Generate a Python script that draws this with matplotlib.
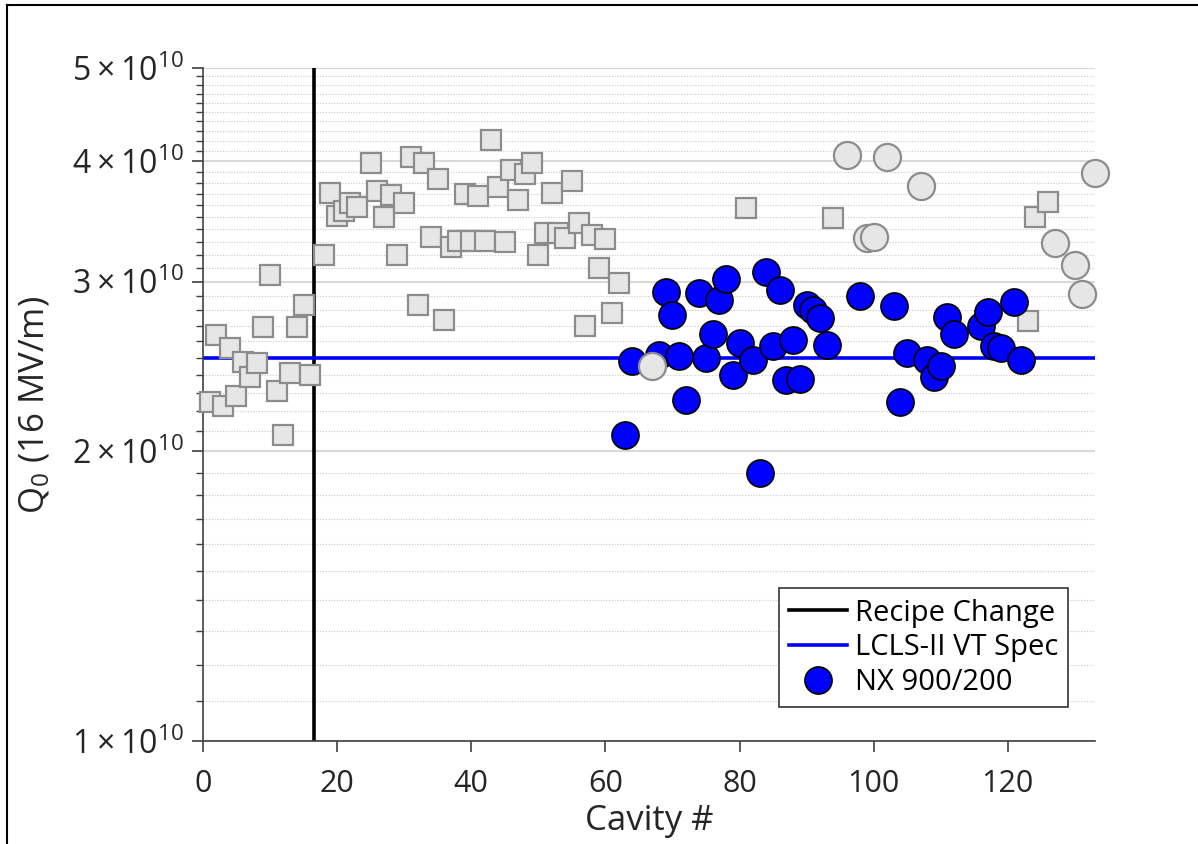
import numpy as np
import matplotlib.pyplot as plt
from matplotlib.ticker import FixedLocator, FixedFormatter, NullFormatter
from matplotlib.lines import Line2D

plt.rcParams['font.family'] = ['Open Sans', 'DejaVu Sans']
plt.rcParams['mathtext.fontset'] = 'custom'
plt.rcParams['mathtext.rm'] = 'Open Sans'
plt.rcParams['mathtext.it'] = 'Open Sans'

# gray squares (earlier cavities)
sq_x = [1, 2, 3, 4, 5, 6, 7, 8, 9, 10, 11, 12, 13, 14, 15, 16,
        18, 19, 20, 21, 22, 23, 25, 26, 27, 28, 29, 30, 31, 32, 33, 34, 35,
        36, 37, 38, 39, 40, 41, 42, 43, 44, 45, 46, 47, 48, 49, 50, 51, 52,
        53, 54, 55, 56, 57, 58, 59, 60, 61, 62, 81, 94, 123, 124, 126]
sq_q = [2.25, 2.64, 2.23, 2.56, 2.28, 2.475, 2.386, 2.47, 2.69, 3.05, 2.31, 2.08, 2.41, 2.69, 2.84, 2.40,
        3.20, 3.71, 3.51, 3.55, 3.62, 3.59, 3.98, 3.73, 3.50, 3.69, 3.20, 3.62, 4.04, 2.84, 3.98, 3.34, 3.83,
        2.74, 3.26, 3.31, 3.70, 3.31, 3.68, 3.31, 4.21, 3.76, 3.30, 3.92, 3.65, 3.88, 3.98, 3.20, 3.37, 3.71,
        3.37, 3.33, 3.82, 3.45, 2.70, 3.35, 3.10, 3.32, 2.78, 2.99, 3.58, 3.49, 2.73, 3.50, 3.63]

# gray circles
gc_x = [67, 96, 99, 100, 102, 107, 127, 130, 131, 133]
gc_q = [2.45, 4.06, 3.33, 3.34, 4.04, 3.77, 3.29, 3.12, 2.91, 3.89]

# NX 900/200 cavities
nx_x = [63, 64, 68, 69, 70, 71, 72, 74, 75, 76, 77, 78, 79, 80, 82, 83, 84, 85, 86, 87,
        88, 89, 90, 91, 92, 93, 98, 103, 104, 105, 108, 109, 110, 111, 112, 116, 117,
        118, 119, 121, 122]
nx_q = [2.08, 2.48, 2.52, 2.93, 2.77, 2.51, 2.26, 2.92, 2.50, 2.65, 2.87, 3.02, 2.40, 2.59,
        2.49, 1.90, 3.07, 2.57, 2.94, 2.37, 2.61, 2.375, 2.84, 2.80, 2.75, 2.58, 2.90, 2.83,
        2.25, 2.53, 2.49, 2.39, 2.45, 2.76, 2.65, 2.70, 2.79, 2.57, 2.56, 2.86, 2.49]

recipe_change = 16.5
spec = 2.5e10

y_major = [1e10, 2e10, 3e10, 4e10, 5e10]
y_labels = [r'$1\times10^{10}$', r'$2\times10^{10}$', r'$3\times10^{10}$',
            r'$4\times10^{10}$', r'$5\times10^{10}$']
y_minor = [v * 1e9 for v in range(11, 50) if v % 10 != 0]

fig = plt.figure(figsize=(11.98, 8.44), dpi=100)
ax = fig.add_axes([0.1694, 0.122, 0.7446, 0.7974])

ax.set_yscale('log')
ax.set_xlim(0, 133)
ax.set_ylim(1e10, 5e10)

ax.yaxis.set_major_locator(FixedLocator(y_major))
ax.yaxis.set_major_formatter(FixedFormatter(y_labels))
ax.yaxis.set_minor_locator(FixedLocator(y_minor))
ax.yaxis.set_minor_formatter(NullFormatter())
ax.set_xticks([0, 20, 40, 60, 80, 100, 120])

ax.grid(which='major', axis='y', color='#d9d9d9', lw=1.5, ls='-', zorder=0)
ax.grid(which='minor', axis='y', color='#c8c8c8', lw=0.8, ls=(0, (1, 1.5)), zorder=0)
ax.set_axisbelow(True)

for s in ['top', 'right']:
    ax.spines[s].set_visible(False)
for s in ['left', 'bottom']:
    ax.spines[s].set_color('#404040')
    ax.spines[s].set_linewidth(1.2)

ax.tick_params(which='major', length=8, width=1.2, color='#404040',
               labelcolor='#262626')
ax.tick_params(axis='x', labelsize=22, pad=12)
ax.tick_params(axis='y', labelsize=23, pad=6)
ax.tick_params(which='minor', length=5, width=1, color='#404040')

ax.axvline(recipe_change, color='black', lw=2.6, zorder=2)
ax.axhline(spec, color='#0000ff', lw=2.6, zorder=2)

ax.plot(sq_x, np.array(sq_q) * 1e10, ls='none', marker='s', ms=15,
        mfc='#e6e6e6', mec='#8c8c8c', mew=1.6, zorder=3, clip_on=False)
ax.plot(nx_x, np.array(nx_q) * 1e10, ls='none', marker='o', ms=19.5,
        mfc='#0000ff', mec='black', mew=1.2, zorder=4, clip_on=False)
ax.plot(gc_x, np.array(gc_q) * 1e10, ls='none', marker='o', ms=19.5,
        mfc='#e6e6e6', mec='#8c8c8c', mew=1.6, zorder=5, clip_on=False)

ax.set_xlabel('Cavity #', fontsize=25, color='#262626', labelpad=4)
ax.set_ylabel(r'Q$_0$ (16 MV/m)', fontsize=25, color='#262626', labelpad=14)

handles = [Line2D([], [], color='black', lw=2.6),
           Line2D([], [], color='#0000ff', lw=2.6),
           Line2D([], [], ls='none', marker='o', ms=19.5, mfc='#0000ff', mec='black', mew=1.2)]
leg = ax.legend(handles, ['Recipe Change', 'LCLS-II VT Spec', 'NX 900/200'],
                loc='lower right', bbox_to_anchor=(0.97, 0.05), borderaxespad=0,
                fontsize=21, fancybox=False, framealpha=1, edgecolor='#333333',
                handlelength=2.0, handletextpad=0.25, labelspacing=0.2, borderpad=0.35)
leg.get_frame().set_linewidth(1.2)

# figure border (left and top edges visible)
fig.add_artist(Line2D([0.006, 0.006], [0, 0.994], transform=fig.transFigure, color='black', lw=1.5))
fig.add_artist(Line2D([0.006, 1], [0.994, 0.994], transform=fig.transFigure, color='black', lw=1.5))

fig.savefig('out.png', dpi=100)
plt.close()
